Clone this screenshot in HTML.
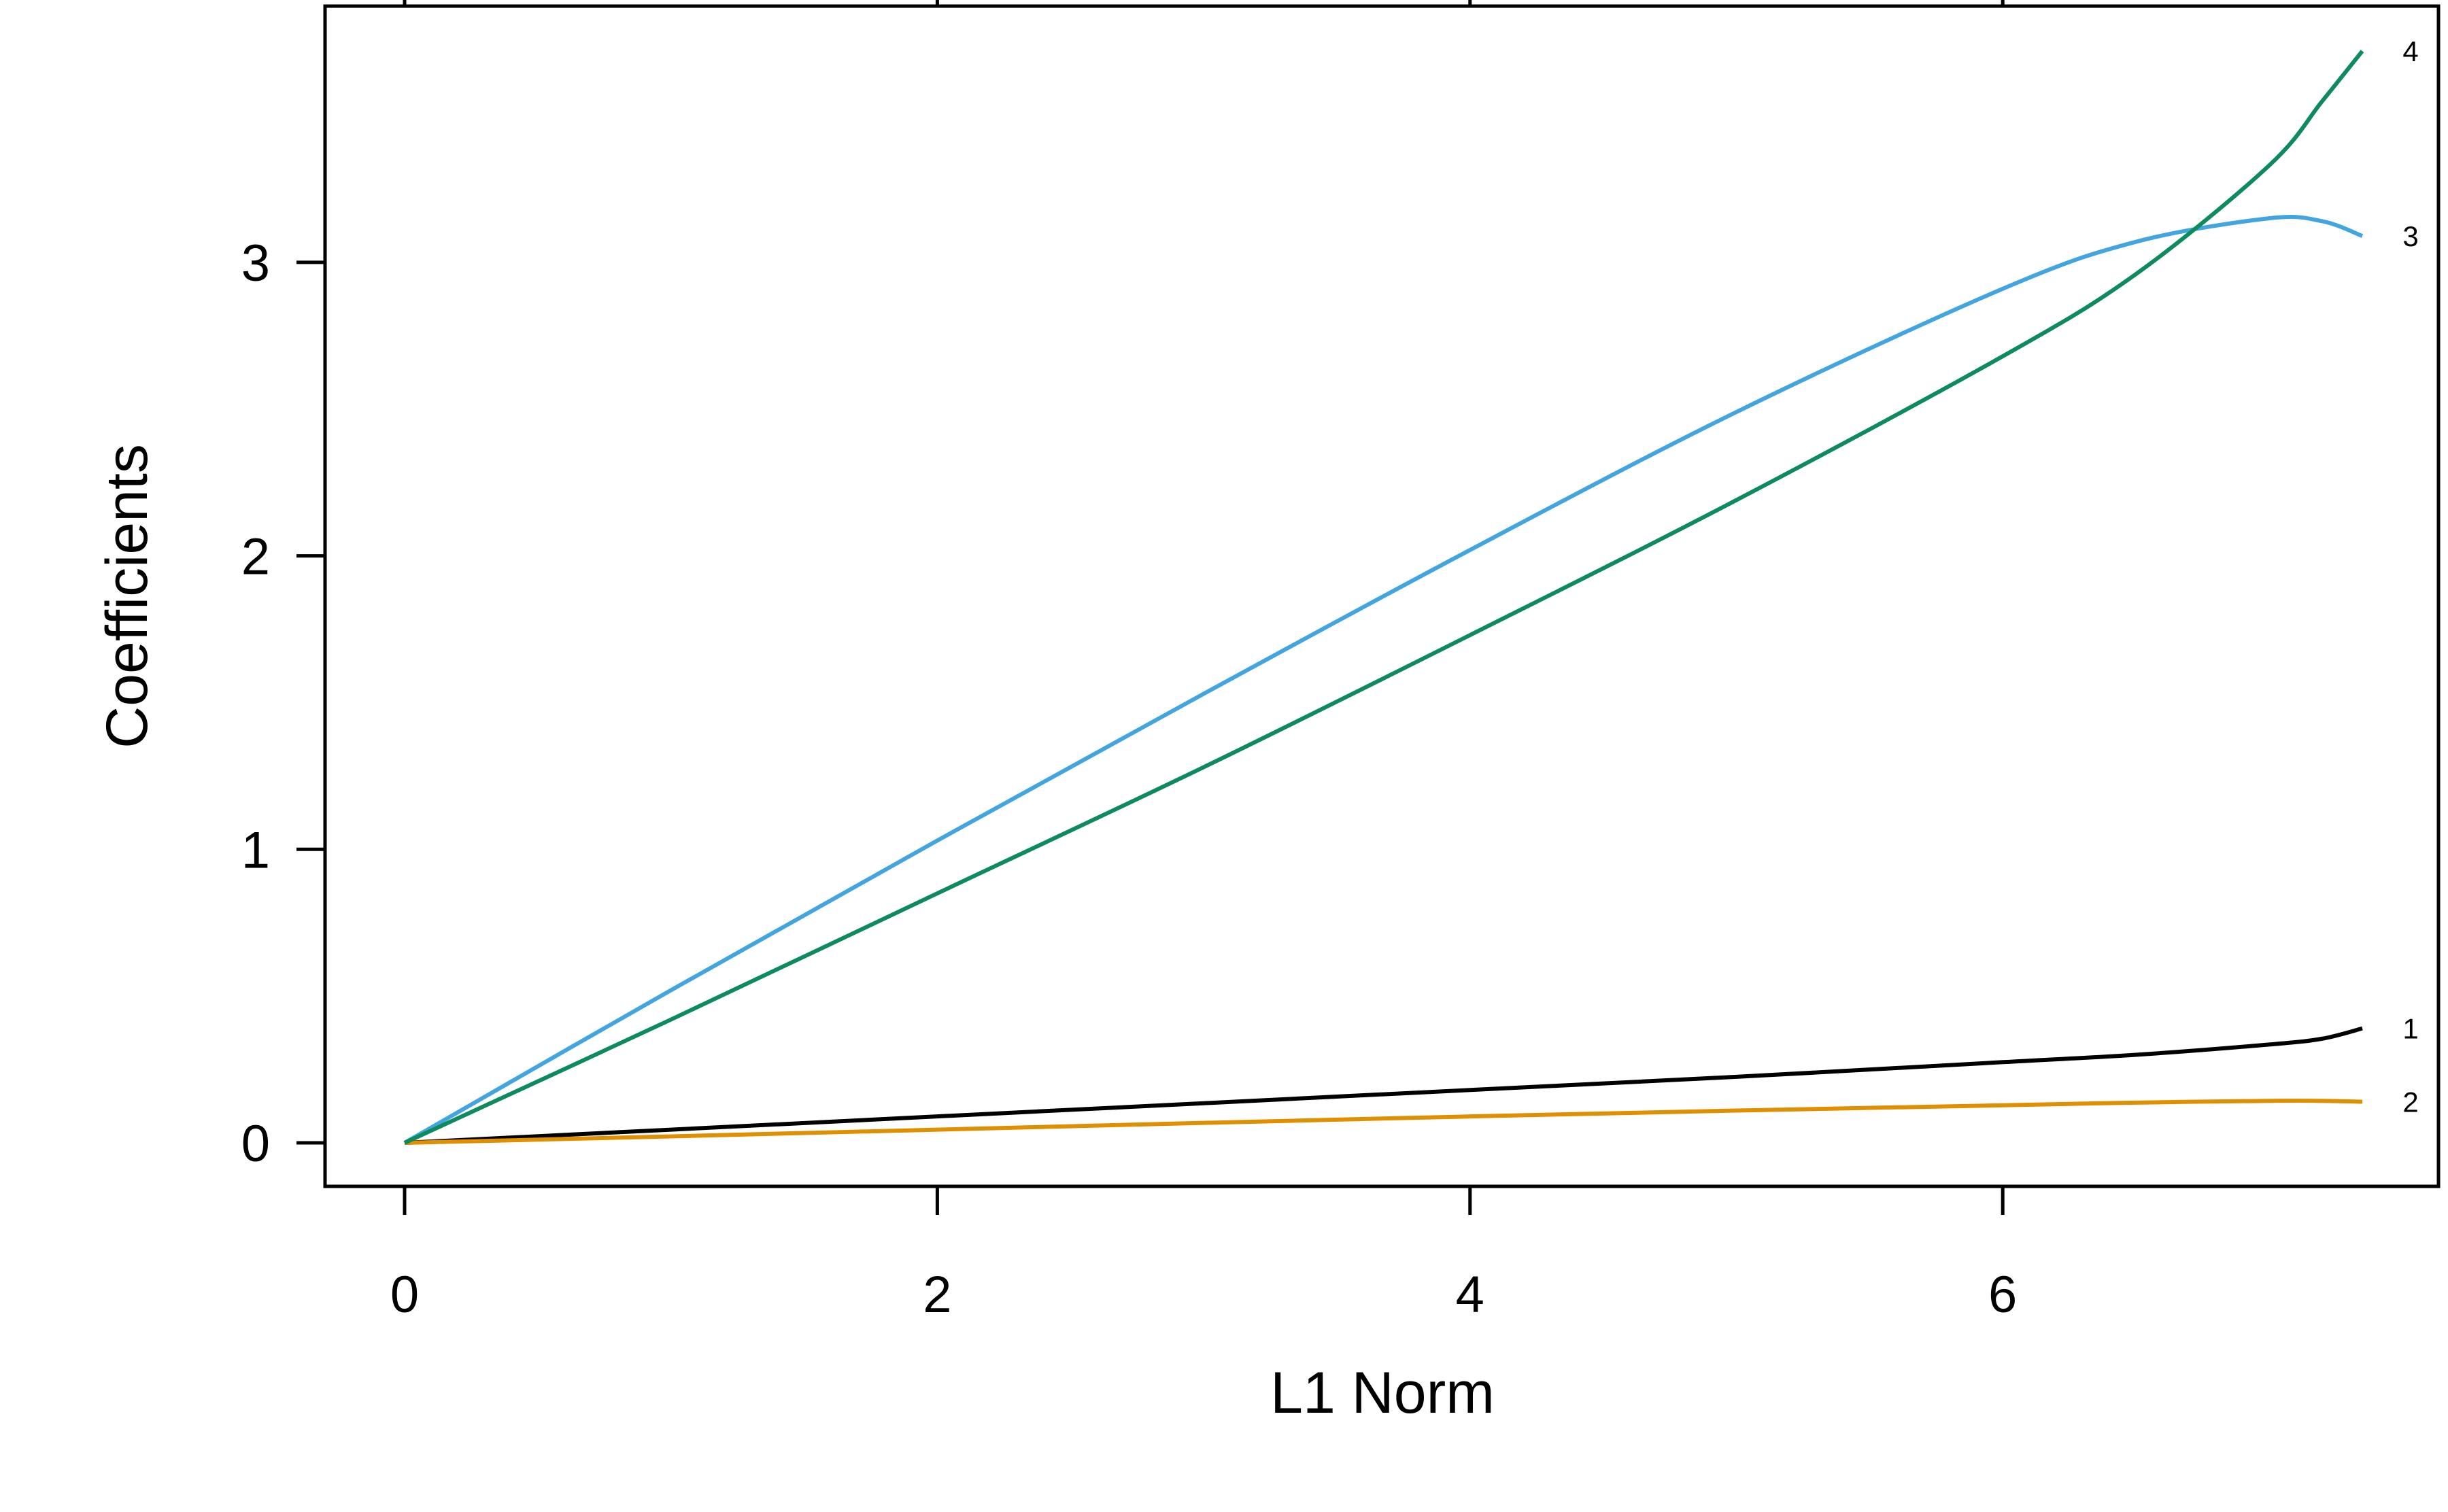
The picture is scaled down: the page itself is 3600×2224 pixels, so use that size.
<!DOCTYPE html>
<html><head><meta charset="utf-8"><style>
html,body{margin:0;padding:0;background:#fff;}
svg{display:block;font-family:"Liberation Sans",Arial,sans-serif;}
</style></head><body>
<svg id="chart" width="3600" height="2224" viewBox="0 0 3600 2224" xmlns="http://www.w3.org/2000/svg">
<rect x="0" y="0" width="3600" height="2224" fill="#fff"/>
<g id="axes"></g>
<g id="series"></g>
<rect x="478" y="9" width="3108" height="1736" fill="none" stroke="#000" stroke-width="5"/>
<text x="2033" y="2078" font-size="86" text-anchor="middle">L1 Norm</text>
<text x="0" y="0" font-size="86" text-anchor="middle" transform="translate(216,877) rotate(-90)">Coefficients</text>
</svg>
<script>
const xVals = [0,1,2,3,4,5,6,6.5,7,7.2,7.35];
const seriesNames = ["1","2","3","4"];
const s1 = [0,0.045,0.09,0.135,0.18,0.225,0.275,0.30,0.335,0.355,0.39];
const s2 = [0,0.022,0.045,0.068,0.09,0.11,0.128,0.137,0.143,0.143,0.14];
const s3 = [0,0.52,1.03,1.53,2.02,2.49,2.91,3.07,3.15,3.14,3.09];
const s4 = [0,0.42,0.85,1.28,1.73,2.19,2.68,2.96,3.33,3.55,3.72];
const xTicks = [0,2,4,6];
const yTicks = [0,1,2,3];
const allSeries = [s1,s2,s3,s4];
const seriesColors = ["#000000","#DF8F00","#42A5E0","#0E8A5F"];

const NS="http://www.w3.org/2000/svg";
function xs(v){return 595+v*391.7;}
function ys(v){return 1681-v*431.7;}
const axes=document.getElementById('axes');
const ser=document.getElementById('series');
function mk(tag,attrs,parent){const e=document.createElementNS(NS,tag);for(const k in attrs)e.setAttribute(k,attrs[k]);parent.appendChild(e);return e;}

xTicks.forEach(t=>{
  const l=mk('line',{x1:xs(t),x2:xs(t),y1:1745,y2:1787,stroke:'#000','stroke-width':5},axes);
  
  
  const lt=mk('line',{x1:xs(t),x2:xs(t),y1:0,y2:9,stroke:'#000','stroke-width':5},axes);
  
  
  const tx=mk('text',{x:xs(t),y:1930,'font-size':76,'text-anchor':'middle'},axes);
  tx.textContent=t;
  
  
});
yTicks.forEach(t=>{
  const l=mk('line',{x1:436,x2:478,y1:ys(t),y2:ys(t),stroke:'#000','stroke-width':5},axes);
  
  
  const tx=mk('text',{x:397,y:ys(t)+27,'font-size':76,'text-anchor':'end'},axes);
  tx.textContent=t;
  
  
});
function smoothPath(px,py){
  let d='M'+px[0]+','+py[0];
  for(let i=0;i<px.length-1;i++){
    const x0=px[Math.max(i-1,0)],y0=py[Math.max(i-1,0)];
    const x1=px[i],y1=py[i],x2=px[i+1],y2=py[i+1];
    const x3=px[Math.min(i+2,px.length-1)],y3=py[Math.min(i+2,px.length-1)];
    const c1x=x1+(x2-x0)/6,c1y=y1+(y2-y0)/6,c2x=x2-(x3-x1)/6,c2y=y2-(y3-y1)/6;
    d+=' C'+c1x+','+c1y+' '+c2x+','+c2y+' '+x2+','+y2;
  }
  return d;
}
allSeries.forEach((s,i)=>{
  const px=xVals.map(xs),py=s.map(ys);
  const p=mk('path',{d:smoothPath(px,py),fill:'none',stroke:seriesColors[i],'stroke-width':6},ser);
  
  
  const lb=mk('text',{x:3545,y:ys(s[s.length-1])+15,'font-size':42,'text-anchor':'middle'},ser);
  lb.textContent=seriesNames[i];
  
  
});
</script>
</body></html>
